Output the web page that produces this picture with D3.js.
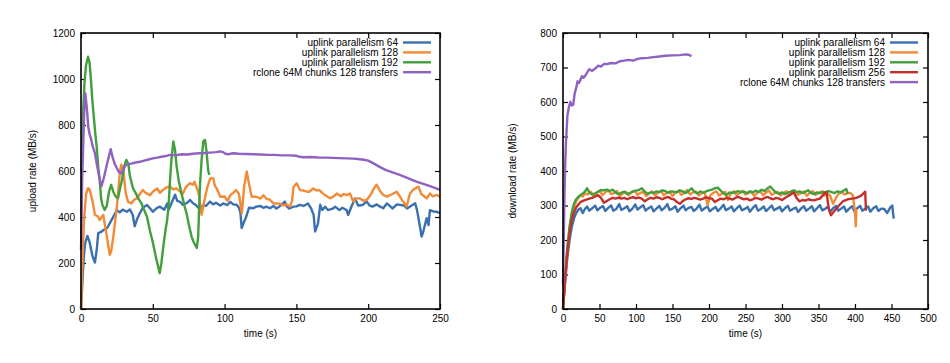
<!DOCTYPE html>
<html>
<head>
<meta charset="utf-8">
<script src="https://cdn.jsdelivr.net/npm/d3@7/dist/d3.min.js"></script>
<style>
  body { margin: 0; background: #fff; }
  svg { display: block; font-family: "Liberation Sans", Arial, sans-serif; }
</style>
</head>
<body>
<svg id="chart" width="950" height="363"></svg>
<script>
// upload panel (time s, MB/s)
const upTicksX = [0, 50, 100, 150, 200, 250]
const upTicksY = [0, 200, 400, 600, 800, 1000, 1200]
const upNames = ['uplink parallelism 64', 'uplink parallelism 128', 'uplink parallelism 192', 'rclone 64M chunks 128 transfers']

const upP64 = [[0,0],[1,120],[2,230],[3,290],[4.5,318],[6,290],[8,230],[9.7,202],[11,260],[12,330],[14,335],[16,345],[18,350],[20,372],[22,395],[25,430],[27,420],[29,432],[32,423],[34,433],[36,410],[37.4,360],[39,390],[41,416],[43,440],[46,452],[48,438],[50,423],[53,440],[55,445],[58,432],[60,459],[61,430],[63,460],[65.5,497],[67,470],[69,466],[71,453],[74,462],[76,474],[78,460],[80,452],[83,431],[85,452],[87,448],[89.8,467],[92,455],[94,462],[97,450],[99,459],[102,452],[104,466],[106,455],[108.4,453],[110,440],[111,420],[111.9,352],[113,370],[115,401],[117,440],[120,438],[122,445],[125,448],[127,440],[129,445],[131.6,438],[134,448],[136,437],[138,445],[142,467],[143,448],[145,437],[148,445],[150,446],[152.5,453],[155,448],[158,459],[160,440],[162,410],[163,337],[165,370],[166.6,453],[168,430],[170,445],[172,430],[175.7,438],[177,445],[180,430],[182,440],[185,430],[186,409],[188,440],[190.8,480],[193,450],[196,452],[199,467],[201,450],[203,445],[206,455],[208,446],[210.5,438],[213,459],[215,448],[217,437],[220,455],[222,453],[225,450],[227,437],[229,445],[232.7,460],[234,430],[236,360],[237.2,315],[238.5,340],[240.7,395],[242,365],[243,430],[245.4,424],[247.5,423],[250,417]]

const upP128 = [[0,0],[1,200],[2,380],[3.5,500],[4.9,525],[6,520],[8,470],[9.7,410],[11.8,402],[13,387],[15.5,409],[18,315],[20,236],[21,250],[22.5,315],[25,445],[27,590],[28,627],[29.5,600],[31,510],[32.7,467],[35,459],[37,475],[39,481],[41,500],[43,517],[45,505],[48,495],[50,510],[53,524],[55,505],[57,517],[60,530],[62,533],[64,520],[66.5,524],[69,510],[71,502],[73,530],[75.9,547],[78,540],[79,553],[81,520],[82,502],[84,410],[85,440],[86,474],[88,530],[90,568],[92.1,569],[93,540],[95,517],[97,488],[100,489],[102,470],[104,495],[106,505],[108,517],[110,500],[112,416],[113.6,531],[115.4,598],[116.5,560],[118.8,489],[122,488],[125,480],[127,495],[129,480],[131.6,475],[134,459],[138,459],[141,450],[143,455],[145.5,446],[147,470],[148,531],[150.2,547],[152.5,517],[155,515],[157,511],[159,510],[161.8,524],[164,515],[166,517],[168,505],[170,495],[173.4,481],[176,490],[178,502],[181,490],[183,500],[185,495],[187.3,502],[189.6,467],[192,481],[194,481],[197,470],[199,474],[202,500],[204,525],[205.9,540],[208,515],[210.5,496],[213,488],[215,495],[217,500],[219.8,510],[222,490],[224,470],[226.8,446],[229,500],[231,517],[233,525],[234.9,532],[237,500],[240.7,481],[243,502],[245,490],[247.7,496],[250,488]]

const upP192 = [[0.3,600],[1,800],[2.5,990],[3.5,1060],[4.9,1097],[6,1070],[7,990],[8,900],[9,830],[10,760],[11,700],[12,620],[13,560],[14,480],[15,450],[16.5,431],[18,450],[19.5,510],[21,540],[22.5,510],[24,490],[25.8,482],[27,520],[28.5,560],[30,620],[31.6,648],[33,630],[34,580],[36.2,525],[38,505],[40,480],[42,460],[44,430],[46,400],[48,340],[50,290],[52,230],[54.8,156],[56,200],[57.5,280],[59,350],[60,387],[61,450],[62,560],[63,650],[64.3,728],[65.5,690],[66.6,620],[68,560],[70,502],[72,450],[73.5,416],[75,370],[77,315],[78.5,290],[80.6,265],[81.6,315],[82.8,531],[84,650],[85.2,730],[86.4,735],[87.5,680],[88.6,600],[89.4,583]]

const upRclone = [[0,257],[0.8,560],[1.5,700],[2.2,850],[3,938],[4,880],[5.1,790],[6,760],[7,740],[8,710],[9.7,678],[11,630],[12.5,580],[14.2,533],[15.5,560],[17,600],[18.5,640],[20.7,695],[22,660],[23.5,630],[25,612],[26.5,595],[28,590],[29.5,605],[31,625],[33,630],[35,632],[38,637],[41,640],[44,645],[47,650],[50,655],[53,658],[56,662],[59,665],[62,670],[66,668],[70,673],[74,672],[78,675],[82,677],[86,678],[90,680],[94,682],[96.8,685],[99,682],[100.5,675],[102.6,673],[106,677],[110,675],[115,674],[120,673],[125,672],[130,670],[135,670],[140,668],[145,668],[150,666],[152,662],[154.8,660],[160,661],[165,659],[170,658],[175,657],[180,656],[185,655],[190,654],[194.3,651],[197,649],[200,645],[204,632],[208,618],[212,605],[216,596],[222,583],[228,568],[234,553],[240,541],[245,530],[250,518]]

// download panel
const downTicksX = [0, 50, 100, 150, 200, 250, 300, 350, 400, 450, 500]
const downTicksY = [0, 100, 200, 300, 400, 500, 600, 700, 800]
const downNames = ['uplink parallelism 64', 'uplink parallelism 128', 'uplink parallelism 192', 'uplink parallelism 256', 'rclone 64M chunks 128 transfers']

const downP64 = [[0,0],[3,80],[6,150],[9,200],[12,238],[15,262],[18,278],[21,288],[24,292],[27,278],[30,290],[33,297],[36,285],[40,292],[44,300],[47,286],[51,294],[55,298],[58,284],[62,293],[66,300],[69,285],[73,290],[77,304],[80,287],[84,292],[88,298],[91,283],[95,291],[99,303],[102,288],[106,295],[110,301],[113,285],[117,292],[121,297],[124,283],[128,291],[132,299],[135,286],[139,293],[143,304],[146,287],[150,291],[154,298],[157,282],[161,292],[165,300],[168,286],[172,293],[176,296],[179,284],[183,291],[187,302],[190,285],[194,292],[198,297],[201,283],[205,290],[209,296],[212,284],[216,292],[220,302],[223,286],[227,291],[231,297],[234,283],[238,292],[242,300],[245,286],[249,290],[253,296],[256,282],[260,293],[264,301],[267,285],[271,290],[275,297],[278,284],[282,292],[286,300],[289,286],[293,291],[297,296],[300,283],[304,292],[308,299],[311,285],[315,290],[319,294],[322,281],[326,291],[330,298],[333,285],[337,291],[341,298],[344,283],[348,292],[352,301],[355,286],[359,290],[363,297],[366,282],[370,292],[374,299],[377,285],[381,291],[385,297],[388,282],[392,291],[396,298],[399,283],[403,292],[407,299],[410,285],[414,291],[418,297],[421,282],[425,292],[429,298],[432,284],[436,291],[440,290],[444,278],[448,293],[451,300],[453,262]]

const downP128 = [[0,0],[3,90],[6,170],[9,230],[12,270],[15,295],[18,312],[21,322],[24,330],[27,326],[30,335],[34,332],[38,340],[42,328],[46,337],[50,343],[54,330],[58,338],[62,345],[66,333],[70,336],[74,342],[78,327],[82,335],[86,340],[90,330],[94,338],[98,343],[102,331],[106,336],[110,340],[114,327],[118,335],[122,341],[126,330],[130,337],[134,342],[138,330],[142,336],[146,340],[150,328],[154,337],[158,343],[162,331],[166,336],[170,345],[174,332],[178,338],[182,341],[186,329],[190,336],[194,338],[198,302],[202,330],[206,337],[210,341],[214,329],[218,335],[222,340],[226,316],[230,336],[234,341],[238,330],[242,337],[246,343],[250,332],[254,336],[258,340],[262,328],[266,336],[270,342],[274,330],[278,337],[282,344],[286,331],[290,336],[294,340],[298,329],[302,336],[306,341],[310,330],[314,337],[318,343],[322,331],[326,336],[330,340],[334,328],[338,337],[342,342],[346,331],[350,336],[354,340],[358,329],[362,336],[366,328],[370,305],[374,322],[378,335],[382,338],[386,332],[390,337],[394,336],[397,330],[400,280],[401,240],[402,290]]

const downP192 = [[0,0],[3,100],[6,180],[9,240],[12,280],[15,305],[18,318],[21,325],[24,330],[27,335],[30,340],[33,350],[36,338],[40,332],[44,335],[48,340],[52,345],[56,344],[60,346],[64,342],[68,346],[72,338],[76,333],[80,337],[84,340],[88,333],[92,337],[96,341],[100,343],[104,345],[108,350],[112,340],[116,334],[120,338],[124,336],[128,341],[132,339],[136,344],[140,342],[144,337],[148,341],[152,340],[156,338],[160,344],[164,341],[168,336],[172,342],[176,350],[180,340],[184,335],[188,341],[192,337],[196,341],[200,344],[204,346],[208,350],[212,352],[216,343],[220,335],[224,330],[228,338],[232,336],[236,339],[240,342],[244,338],[248,340],[252,336],[256,341],[260,338],[264,343],[268,339],[272,346],[276,342],[280,350],[284,355],[288,345],[292,337],[296,334],[300,338],[304,333],[308,337],[312,340],[316,344],[320,338],[324,341],[328,336],[332,340],[336,344],[340,336],[344,333],[348,338],[352,336],[356,340],[360,337],[364,342],[368,339],[372,336],[376,341],[380,338],[384,343],[388,348],[390,333]]

const downP256 = [[0,0],[3,90],[6,165],[9,220],[12,258],[15,280],[18,294],[21,303],[24,310],[28,314],[32,317],[36,320],[40,322],[44,326],[48,330],[52,322],[56,308],[60,313],[64,318],[68,322],[72,320],[76,323],[80,320],[84,322],[88,318],[92,322],[96,324],[100,321],[104,323],[108,320],[112,312],[116,318],[120,322],[124,320],[128,324],[132,322],[136,318],[140,322],[144,325],[148,320],[152,318],[156,310],[160,305],[164,313],[168,318],[172,321],[176,319],[180,322],[184,320],[188,317],[192,320],[196,324],[200,321],[204,320],[208,310],[212,315],[216,320],[220,318],[224,322],[228,320],[232,317],[236,322],[240,325],[244,321],[248,318],[252,320],[256,315],[260,318],[264,322],[268,320],[272,317],[276,322],[280,325],[284,321],[288,318],[292,322],[296,320],[300,316],[304,322],[308,327],[312,332],[316,338],[320,322],[324,312],[328,316],[332,314],[336,318],[340,316],[344,315],[348,318],[352,320],[356,330],[361,340],[364,290],[367,272],[372,285],[378,300],[384,313],[390,318],[396,320],[402,322],[408,328],[414,340],[415,285]]

const downRclone = [[0,70],[1,200],[2,330],[3,420],[4,480],[5,520],[6,560],[8,585],[10,600],[12,590],[14,592],[16,625],[18,640],[20,660],[22,655],[24,665],[26,675],[28,670],[30,675],[33,685],[36,695],[40,690],[44,697],[48,705],[52,703],[56,710],[60,710],[66,713],[72,712],[78,718],[84,720],[90,722],[96,720],[102,725],[108,727],[116,728],[124,730],[132,732],[140,734],[150,735],[160,736],[168,738],[172,737],[176,733]]

const colors = {
  blue: '#3a70b0',
  orange: '#f28a37',
  green: '#42a03c',
  red: '#c3302b',
  purple: '#8f62c2'
}

const svg = d3.select('#chart')

function drawPanel (opts) {
  const g = svg.append('g')
  const x = d3.scaleLinear().domain(opts.xDomain).range([opts.left, opts.right])
  const y = d3.scaleLinear().domain(opts.yDomain).range([opts.bottom, opts.top])
  const fmt = d3.format('d')

  // ticks point inward on all four sides, like gnuplot
  g.append('g')
    .attr('transform', `translate(0,${opts.bottom})`)
    .call(d3.axisBottom(x).tickValues(opts.xTicks).tickFormat(fmt).tickSize(-5).tickPadding(6))
  g.append('g')
    .attr('transform', `translate(0,${opts.top})`)
    .call(d3.axisTop(x).tickValues(opts.xTicks).tickSize(-5).tickFormat(''))
  g.append('g')
    .attr('transform', `translate(${opts.left},0)`)
    .call(d3.axisLeft(y).tickValues(opts.yTicks).tickFormat(fmt).tickSize(-5).tickPadding(6))
  g.append('g')
    .attr('transform', `translate(${opts.right},0)`)
    .call(d3.axisRight(y).tickValues(opts.yTicks).tickSize(-5).tickFormat(''))

  g.selectAll('.domain').remove()
  g.selectAll('.tick line').attr('stroke', '#000').attr('stroke-width', 1.2)
  g.selectAll('.tick text').attr('font-size', 10).attr('fill', '#000')
    .attr('font-family', '"Liberation Sans", Arial, sans-serif')

  const line = d3.line().x(d => x(d[0])).y(d => y(d[1]))
  const plot = g.append('g')
  opts.series.forEach(s => {
    plot.append('path')
      .datum(s.data)
      .attr('fill', 'none')
      .attr('stroke', s.color)
      .attr('stroke-width', 2.4)
      .attr('stroke-linejoin', 'round')
      .attr('d', line)
  })

  g.append('rect')
    .attr('x', opts.left).attr('y', opts.top)
    .attr('width', opts.right - opts.left).attr('height', opts.bottom - opts.top)
    .attr('fill', 'none').attr('stroke', '#000').attr('stroke-width', 1.6)

  // axis titles
  g.append('text')
    .attr('x', (opts.left + opts.right) / 2).attr('y', opts.bottom + 28)
    .attr('text-anchor', 'middle').attr('font-size', 10)
    .text('time (s)')
  g.append('text')
    .attr('transform', `translate(${opts.yTitleX},${(opts.top + opts.bottom) / 2}) rotate(-90)`)
    .attr('text-anchor', 'middle').attr('font-size', 10)
    .text(opts.yTitle)

  // legend
  const legend = g.append('g')
  opts.series.forEach((s, i) => {
    const ly = opts.top + 9.5 + i * 9.9
    legend.append('text')
      .attr('x', opts.legendX).attr('y', ly).attr('dy', '0.35em')
      .attr('text-anchor', 'end').attr('font-size', 10)
      .text(s.name)
    legend.append('line')
      .attr('x1', opts.legendX + 5).attr('x2', opts.legendX + 33)
      .attr('y1', ly).attr('y2', ly)
      .attr('stroke', s.color).attr('stroke-width', 2.4)
  })
}

drawPanel({
  left: 81, right: 440, top: 33, bottom: 309,
  xDomain: [0, 250], yDomain: [0, 1200],
  xTicks: upTicksX, yTicks: upTicksY,
  yTitle: 'upload rate (MB/s)', yTitleX: 36,
  legendX: 398,
  series: [
    { name: upNames[0], color: colors.blue, data: upP64 },
    { name: upNames[1], color: colors.orange, data: upP128 },
    { name: upNames[2], color: colors.green, data: upP192 },
    { name: upNames[3], color: colors.purple, data: upRclone }
  ]
})

drawPanel({
  left: 563, right: 928, top: 33, bottom: 309,
  xDomain: [0, 500], yDomain: [0, 800],
  xTicks: downTicksX, yTicks: downTicksY,
  yTitle: 'download rate (MB/s)', yTitleX: 516,
  legendX: 885,
  series: [
    { name: downNames[0], color: colors.blue, data: downP64 },
    { name: downNames[1], color: colors.orange, data: downP128 },
    { name: downNames[2], color: colors.green, data: downP192 },
    { name: downNames[3], color: colors.red, data: downP256 },
    { name: downNames[4], color: colors.purple, data: downRclone }
  ]
})
</script>
</body>
</html>
